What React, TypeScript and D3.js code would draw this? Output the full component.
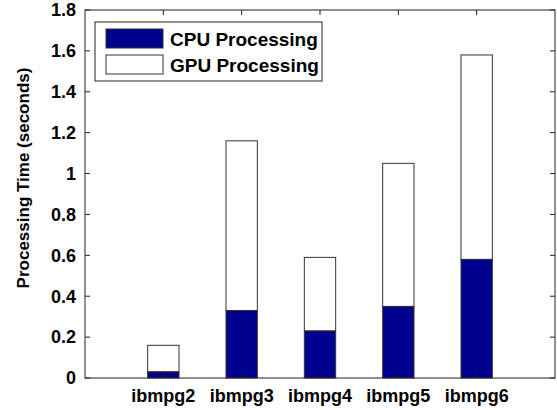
import React, { useEffect, useRef } from 'react';
import * as d3 from 'd3';

const categories = ['ibmpg2', 'ibmpg3', 'ibmpg4', 'ibmpg5', 'ibmpg6'];
const cpuTimes = [0.03, 0.33, 0.23, 0.35, 0.58];
const gpuTimes = [0.13, 0.83, 0.36, 0.7, 1.0];
const yTicks = [0, 0.2, 0.4, 0.6, 0.8, 1, 1.2, 1.4, 1.6, 1.8];
const seriesNames = ['CPU Processing', 'GPU Processing'];

export default function App() {
  const ref = useRef<SVGSVGElement>(null);

  useEffect(() => {
    const svg = d3.select(ref.current);
    svg.selectAll('*').remove();
    const left = 85;
    const right = 555;
    const top = 10;
    const bottom = 378;
    const font = 'Liberation Sans, Arial, sans-serif';
    const navy = '#00008F';
    const edge = '#333';

    const x = d3.scaleLinear().domain([0, 6]).range([left, right]);
    const y = d3.scaleLinear().domain([0, 1.8]).range([bottom, top]);
    const barW = (x(1) - x(0)) * 0.4;

    const g = svg.append('g');

    // bars
    categories.forEach((c, i) => {
      const cx = x(i + 1);
      const cpu = cpuTimes[i];
      const total = cpu + gpuTimes[i];
      g.append('rect')
        .attr('x', cx - barW / 2)
        .attr('y', y(total))
        .attr('width', barW)
        .attr('height', y(cpu) - y(total))
        .attr('fill', 'white')
        .attr('stroke', edge)
        .attr('stroke-width', 1);
      g.append('rect')
        .attr('x', cx - barW / 2)
        .attr('y', y(cpu))
        .attr('width', barW)
        .attr('height', y(0) - y(cpu))
        .attr('fill', navy)
        .attr('stroke', edge)
        .attr('stroke-width', 1);
    });

    // axes box
    g.append('rect')
      .attr('x', left)
      .attr('y', top)
      .attr('width', right - left)
      .attr('height', bottom - top)
      .attr('fill', 'none')
      .attr('stroke', '#222')
      .attr('stroke-width', 1);

    const tick = 5;
    yTicks.forEach(t => {
      g.append('line').attr('x1', left).attr('x2', left + tick).attr('y1', y(t)).attr('y2', y(t)).attr('stroke', '#222');
      g.append('line').attr('x1', right).attr('x2', right - tick).attr('y1', y(t)).attr('y2', y(t)).attr('stroke', '#222');
      g.append('text')
        .attr('x', left - 9)
        .attr('y', y(t))
        .attr('dy', '0.35em')
        .attr('text-anchor', 'end')
        .attr('font-family', font)
        .attr('font-weight', 'bold')
        .attr('font-size', 18)
        .text(String(t));
    });

    categories.forEach((c, i) => {
      const cx = x(i + 1);
      g.append('line').attr('x1', cx).attr('x2', cx).attr('y1', bottom).attr('y2', bottom - tick).attr('stroke', '#222');
      g.append('line').attr('x1', cx).attr('x2', cx).attr('y1', top).attr('y2', top + tick).attr('stroke', '#222');
      g.append('text')
        .attr('x', cx)
        .attr('y', bottom + 24)
        .attr('text-anchor', 'middle')
        .attr('font-family', font)
        .attr('font-weight', 'bold')
        .attr('font-size', 18)
        .text(c);
    });

    g.append('text')
      .attr('transform', `translate(29, 178) rotate(-90)`)
      .attr('text-anchor', 'middle')
      .attr('font-family', font)
      .attr('font-weight', 'bold')
      .attr('font-size', 17)
      .text('Processing Time (seconds)');

    // legend
    const lg = g.append('g');
    lg.append('rect')
      .attr('x', 95)
      .attr('y', 22)
      .attr('width', 227)
      .attr('height', 59)
      .attr('fill', 'white')
      .attr('stroke', '#222');
    seriesNames.forEach((s, i) => {
      const yy = 29 + i * 26;
      lg.append('rect')
        .attr('x', 106)
        .attr('y', yy)
        .attr('width', 57)
        .attr('height', 19)
        .attr('fill', i === 0 ? navy : 'white')
        .attr('stroke', edge);
      lg.append('text')
        .attr('x', 170)
        .attr('y', yy + 10)
        .attr('dy', '0.35em')
        .attr('font-family', font)
        .attr('font-weight', 'bold')
        .attr('font-size', 19)
        .text(s);
    });
  }, []);

  return (
    <svg ref={ref} width={557} height={410} style={{ position: 'absolute', left: 0, top: 0, background: 'white' }} />
  );
}
